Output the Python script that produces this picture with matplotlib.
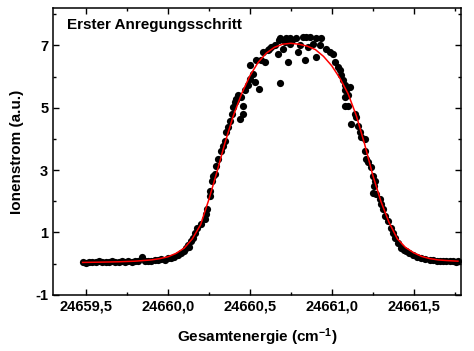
import matplotlib
matplotlib.use("Agg")
import matplotlib.pyplot as plt
from matplotlib.ticker import MultipleLocator, FuncFormatter

plt.rcParams['font.family'] = ['Liberation Sans', 'DejaVu Sans']
plt.rcParams['font.weight'] = 'bold'
plt.rcParams['mathtext.default'] = 'regular'

# measured points (energy in cm^-1, ion current in a.u.)
energy = [
    24659.48, 24659.50, 24659.52, 24659.54,
    24659.56, 24659.58, 24659.60, 24659.62, 24659.64, 24659.66, 24659.68, 24659.70,
    24659.72, 24659.74, 24659.76, 24659.78, 24659.80, 24659.82, 24659.84, 24659.86,
    24659.88, 24659.90, 24659.92, 24659.94, 24659.96, 24659.98, 24660.00, 24660.02,
    24660.04, 24660.06, 24660.08, 24660.10, 24660.11, 24660.124, 24660.13, 24660.144,
    24660.154, 24660.165, 24660.175, 24660.205, 24660.226, 24660.236, 24660.24, 24660.256,
    24660.26, 24660.27, 24660.276, 24660.287, 24660.297, 24660.307, 24660.327, 24660.337,
    24660.348, 24660.358, 24660.368, 24660.378, 24660.389, 24660.398, 24660.408, 24660.419,
    24660.419, 24660.43, 24660.439, 24660.449, 24660.459, 24660.459, 24660.47, 24660.49,
    24660.50, 24660.50, 24660.52, 24660.53, 24660.54, 24660.557, 24660.571, 24660.58,
    24660.591, 24660.61, 24660.62, 24660.632, 24660.652, 24660.672, 24660.68, 24660.683,
    24660.683, 24660.703, 24660.713, 24660.72, 24660.733, 24660.744, 24660.744, 24660.76,
    24660.785, 24660.794, 24660.805, 24660.825, 24660.835, 24660.845, 24660.855, 24660.866,
    24660.886, 24660.906, 24660.906, 24660.927, 24660.937, 24660.968, 24660.988, 24661.008,
    24661.018, 24661.039, 24661.049, 24661.059, 24661.069, 24661.079, 24661.079, 24661.079,
    24661.079, 24661.09, 24661.10, 24661.10, 24661.11, 24661.12, 24661.14, 24661.15,
    24661.16, 24661.17, 24661.18, 24661.20, 24661.20, 24661.21, 24661.22, 24661.242,
    24661.252, 24661.262, 24661.26, 24661.252, 24661.272, 24661.293, 24661.303, 24661.313,
    24661.323, 24661.343, 24661.364, 24661.374, 24661.384, 24661.404, 24661.425, 24661.44,
    24661.455, 24661.47, 24661.496, 24661.52, 24661.547, 24661.57, 24661.598, 24661.62,
    24661.64, 24661.66, 24661.68, 24661.70, 24661.72, 24661.74, 24661.76, 24661.77,
]
current = [
    0.05, 0.03, 0.06, 0.05,
    0.04, 0.07, 0.05, 0.06, 0.04, 0.07, 0.05, 0.06,
    0.08, 0.05, 0.07, 0.06, 0.09, 0.07, 0.20, 0.08,
    0.10, 0.09, 0.12, 0.11, 0.14, 0.13, 0.17, 0.19,
    0.22, 0.28, 0.35, 0.42, 0.51, 0.61, 0.55, 0.72,
    0.83, 0.99, 1.15, 1.26, 1.42, 1.58, 1.74, 2.17,
    2.33, 2.65, 2.82, 2.87, 3.14, 3.35, 3.62, 3.78,
    3.95, 4.22, 4.38, 4.59, 4.81, 5.02, 5.18, 5.24,
    5.29, 5.40, 4.65, 5.34, 5.07, 4.81, 5.56, 5.72,
    5.94, 6.37, 6.10, 5.83, 6.53, 5.61, 6.53, 6.80,
    6.47, 6.85, 6.90, 6.96, 7.01, 6.74, 7.17, 7.23,
    5.80, 6.90, 7.12, 7.23, 6.47, 7.23, 7.06, 7.17,
    7.23, 6.80, 7.01, 7.28, 6.53, 7.28, 6.96, 7.28,
    7.06, 7.23, 6.63, 7.01, 7.23, 6.90, 6.80, 6.74,
    6.47, 6.31, 6.20, 6.04, 5.88, 5.72, 5.56, 5.34,
    5.07, 5.56, 5.40, 5.07, 5.67, 4.48, 4.81, 4.70,
    4.43, 4.22, 4.05, 4.00, 3.62, 3.35, 3.25, 3.09,
    2.82, 2.65, 2.49, 2.28, 2.23, 2.06, 1.90, 1.74,
    1.53, 1.36, 1.15, 0.99, 0.83, 0.67, 0.51, 0.45,
    0.40, 0.34, 0.29, 0.23, 0.18, 0.15, 0.13, 0.11,
    0.10, 0.09, 0.08, 0.09, 0.07, 0.08, 0.06, 0.07,
]

# fit curve
fit_energy = [
    24659.48, 24659.60, 24659.70, 24659.80, 24659.90, 24659.95, 24660.00,
    24660.05, 24660.10, 24660.15, 24660.20, 24660.25, 24660.30, 24660.35, 24660.40,
    24660.45, 24660.50, 24660.55, 24660.60, 24660.65, 24660.70, 24660.75, 24660.80,
    24660.85, 24660.90, 24660.95, 24661.00, 24661.05, 24661.10, 24661.15, 24661.20,
    24661.25, 24661.30, 24661.35, 24661.40, 24661.45, 24661.50, 24661.55, 24661.60,
    24661.65, 24661.70, 24661.77,
]
fit_current = [
    0.04, 0.05, 0.06, 0.08, 0.12, 0.16, 0.22,
    0.33, 0.50, 0.80, 1.25, 2.05, 2.95, 3.90, 4.75,
    5.45, 6.02, 6.45, 6.75, 6.94, 7.04, 7.07, 7.04,
    6.98, 6.87, 6.65, 6.35, 5.95, 5.45, 4.75, 3.85,
    2.85, 2.00, 1.32, 0.80, 0.52, 0.35, 0.23, 0.16,
    0.12, 0.10, 0.08,
]

fig = plt.figure(figsize=(4.74, 3.51), dpi=100)
ax = fig.add_axes([0.112, 0.160, 0.861, 0.817])

ax.plot(energy, current, 'o', color='black', markersize=5.2, markeredgewidth=0)
ax.plot(fit_energy, fit_current, '-', color='red', linewidth=1.1)

ax.set_xlim(24659.3, 24661.79)
ax.set_ylim(-1, 8.2)
ax.xaxis.set_major_locator(MultipleLocator(0.5))
ax.xaxis.set_minor_locator(MultipleLocator(0.25))
ax.yaxis.set_minor_locator(MultipleLocator(1))
ax.set_yticks([-1, 1, 3, 5, 7])
ax.xaxis.set_major_formatter(FuncFormatter(lambda v, p: f"{v:.1f}".replace('.', ',')))
ax.yaxis.set_major_formatter(FuncFormatter(lambda v, p: f"{v:.0f}"))

ax.tick_params(which='both', direction='in', top=True, right=True, labelsize=10.5)
ax.tick_params(which='major', length=4, width=1)
ax.tick_params(which='minor', length=2.5, width=1)
for lab in ax.get_xticklabels() + ax.get_yticklabels():
    lab.set_fontweight('bold')
for s in ax.spines.values():
    s.set_linewidth(1.1)

ax.set_xlabel('Gesamtenergie (cm$^{-1}$)', fontsize=11, fontweight='bold', labelpad=9)
ax.set_ylabel('Ionenstrom (a.u.)', fontsize=11, fontweight='bold', labelpad=8)
ax.text(0.035, 0.94, 'Erster Anregungsschritt', transform=ax.transAxes,
        fontsize=11, fontweight='bold', va='center', ha='left')

fig.savefig('out.png', dpi=100)
